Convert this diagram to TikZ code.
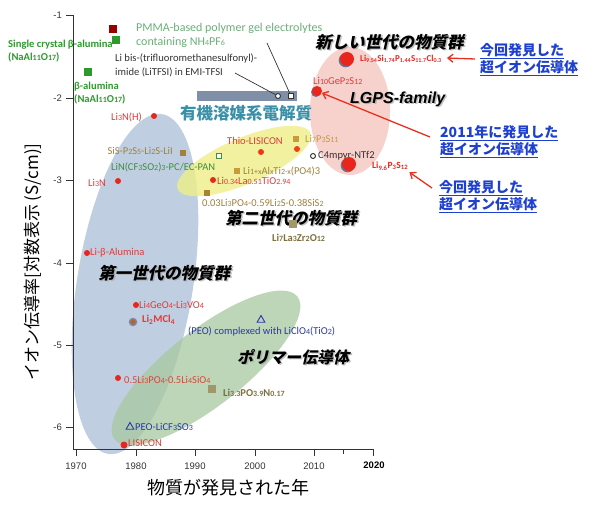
\documentclass[tikz,border=0pt]{standalone}
\usepackage{fontspec}
\setmainfont{Carlito}
\newfontfamily\jp{Noto Sans CJK JP}
\newfontfamily\jpit[FakeSlant=0.22]{Noto Sans CJK JP}
\newfontfamily\arl{Liberation Sans}
\usetikzlibrary{shapes.geometric,shadows,arrows.meta}
\newcommand\sd[1]{{\fontsize{8}{8}\selectfont #1}}
\definecolor{dotred}{HTML}{E8261E}
\definecolor{txtred}{HTML}{E03A3A}
\definecolor{brownA}{HTML}{A0803A}
\definecolor{goldA}{HTML}{C89A3A}
\definecolor{oliveA}{HTML}{7C7040}
\definecolor{oliveB}{HTML}{A09868}
\definecolor{grnA}{HTML}{2E9A2E}
\definecolor{grnB}{HTML}{3E8E3E}
\definecolor{pmmaC}{HTML}{6AAE78}
\definecolor{tealA}{HTML}{3A90A8}
\definecolor{bluA}{HTML}{2838A8}
\definecolor{annblue}{HTML}{1E40D0}
\definecolor{ellblue}{HTML}{B4C6DA}
\definecolor{ellgreen}{HTML}{A8C8A0}
\definecolor{ellyellow}{HTML}{EEEE88}
\definecolor{ellpink}{HTML}{F6CCC6}
\definecolor{rectgray}{HTML}{7F8FA8}
\definecolor{slate}{HTML}{5A6A90}
\definecolor{axisgray}{HTML}{333333}
\definecolor{redarr}{HTML}{E83020}
\tikzset{
 lbl/.style={anchor=west, inner sep=0pt, font=\fontsize{10.5}{12}\selectfont},
 lble/.style={anchor=east, inner sep=0pt, font=\fontsize{10.5}{12}\selectfont},
 rdot/.style={circle, fill=dotred, inner sep=0pt, minimum size=6pt},
 bigdot/.style={circle, fill=dotred, inner sep=0pt, minimum size=14pt,
   drop shadow={shadow xshift=-1.3pt, shadow yshift=-1.3pt, fill=slate, opacity=0.9}},
 sqm/.style={rectangle, inner sep=0pt, minimum size=6pt},
 osq/.style={rectangle, draw=#1, line width=0.9pt, fill=white, inner sep=0pt, minimum size=5.5pt},
 ocirc/.style={circle, draw=axisgray, line width=0.9pt, fill=white, inner sep=0pt, minimum size=5pt},
 tri/.style={regular polygon, regular polygon sides=3, draw=bluA, line width=0.9pt, inner sep=0pt, minimum size=9pt},
 title/.style={anchor=west, inner sep=0pt, font=\jpit\bfseries\fontsize{16.5}{18}\selectfont},
 tshadow/.style={anchor=west, inner sep=0pt, font=\jpit\bfseries\fontsize{16.5}{18}\selectfont, text=black!35, opacity=0.7},
 ann/.style={anchor=west, inner sep=0pt, align=left, text=annblue, font=\jp\bfseries\fontsize{14}{17}\selectfont},
 rarrow/.style={draw=redarr, line width=1.3pt, -{Straight Barb[length=5pt,width=8pt]}},
 tick/.style={draw=axisgray, line width=0.8pt},
 ticklbl/.style={inner sep=0pt, font=\arl\fontsize{9.5}{11}\selectfont, text=axisgray},
}
\begin{document}
\begin{tikzpicture}[x=1pt,y=-1pt]
\useasboundingbox (0,0) rectangle (600,516);
% regions
\begin{scope}[shift={(135,284)},rotate=-9]
 \fill[ellblue, opacity=0.85] (0,0) ellipse [x radius=58pt, y radius=172pt];
\end{scope}
\begin{scope}[shift={(206,368)},rotate=38]
 \fill[ellgreen, opacity=0.75] (0,0) ellipse [x radius=116pt, y radius=38pt];
\end{scope}
\begin{scope}[shift={(244,161)},rotate=23]
 \fill[ellyellow, opacity=0.8] (0,0) ellipse [x radius=72pt, y radius=23pt];
\end{scope}
\fill[ellpink, opacity=0.9] (350,111) ellipse [x radius=40pt, y radius=64pt];
\fill[rectgray] (197,91) rectangle (297,101);
% axes
\draw[tick] (73,15) -- (73,449) -- (373,449);
\foreach \v/\yy in {-1/15,-2/98,-3/180,-4/263,-5/345,-6/427}{
  \draw[tick] (66,\yy) -- (73,\yy);
  \node[ticklbl, anchor=east] (yt\v) at (62,\yy) {\v};
}
\foreach \yr/\xx in {1970/76,1980/136,1990/195,2000/255,2010/314}{
  \draw[tick] (\xx,449) -- (\xx,456);
  \node[ticklbl] (xt\yr) at (\xx,466) {\yr};
}
\draw[tick] (343,449) -- (343,454);
\draw[tick] (373,449) -- (373,456);
\node[ticklbl, font=\arl\bfseries\fontsize{9.5}{11}\selectfont, text=black] (xt2020) at (374,465) {2020};
\node[font=\jp\fontsize{17}{19}\selectfont, rotate=90, inner sep=0pt] (ylab) at (33,262) {イオン伝導率[対数表示 (S/cm)]};
\node[font=\jp\fontsize{18}{20}\selectfont, inner sep=0pt] (xlab) at (228,488) {物質が発見された年};
% top-left green
\node[sqm, fill=red!60!black, minimum size=8pt] (sqDR) at (113,29) {};
\node[sqm, fill=grnA, minimum size=8pt] (sqG1) at (116,40) {};
\node[sqm, fill=grnA, minimum size=8pt] (sqG2) at (88,72) {};
\node[lbl, align=left, text=grnA, font=\bfseries\fontsize{10.6}{13.5}\selectfont] (tSC) at (8,51) {Single crystal β-alumina\\(NaAl\sd{11}O\sd{17})};
\node[lbl, align=left, text=grnA, font=\bfseries\fontsize{10.6}{13}\selectfont] (tBA) at (74,93) {β-alumina\\(NaAl\sd{11}O\sd{17})};
% organic electrolytes
\node[lbl, align=left, text=pmmaC, font=\fontsize{12}{13.5}\selectfont] (tPMMA) at (136,35.5) {PMMA-based polymer gel electrolytes\\containing NH\sd{4}PF\sd{6}};
\node[lbl, align=left, text=axisgray, font=\fontsize{10.6}{14}\selectfont] (tTFSI) at (115,65) {Li bis-(trifluoromethanesulfonyl)-\\imide (LiTFSI) in EMI-TFSI};
\node[ocirc] (oc1) at (278,96) {};
\node[osq=axisgray] (osq1) at (291,96) {};
\coordinate (pmmaL) at (267,43);
\coordinate (tfsiL) at (235,73);
\draw[axisgray, line width=0.7pt] (pmmaL) -- (osq1);
\draw[axisgray, line width=0.7pt] (tfsiL) -- (oc1);
\node[anchor=west, inner sep=0pt, text=tealA, font=\jp\bfseries\fontsize{16.5}{18}\selectfont] (tOrg) at (180,113) {有機溶媒系電解質};
% second-gen region
\node[rdot] (dLi3NH) at (154,116) {};
\node[lble, text=txtred] (tLi3NH) at (142,117) {Li\sd{3}N(H)};
\node[sqm, fill=brownA] (sqSiS) at (183,153) {};
\node[lble, text=brownA] (tSiS) at (173,151) {SiS-P\sd{2}S\sd{5}-Li\sd{2}S-LiI};
\node[osq=grnB] (osqLiN) at (219,156) {};
\node[lbl, text=grnB] (tLiN) at (111,167) {LiN(CF\sd{3}SO\sd{2})\sd{3}-PC/EC-PAN};
\node[rdot, fill=dotred!80!orange] (dThio1) at (261,152) {};
\node[rdot, fill=dotred!70!orange] (dThio2) at (297,149) {};
\node[lbl, text=txtred] (tThio) at (227,141) {Thio-LISICON};
\node[sqm, fill=goldA] (sqLPS) at (296,139) {};
\node[lbl, text=goldA] (tLPS) at (305,139) {Li\sd{7}P\sd{3}S\sd{11}};
\node[ocirc] (ocC4) at (313,156) {};
\node[lbl, text=axisgray] (tC4) at (318,156) {C4mpyr-NTf2};
\node[sqm, fill=goldA] (sqLATP) at (237,171) {};
\node[lbl, text=brownA] (tLATP) at (243,171) {Li\sd{1+x}Al\sd{x}Ti\sd{2-x}(PO4)3};
\node[rdot] (dLLTO) at (213,180) {};
\node[lbl, text=txtred] (tLLTO) at (217,181) {Li\sd{0.34}La\sd{0.51}TiO\sd{2.94}};
\node[sqm, fill=goldA!85!black] (sqLSS) at (207,193) {};
\node[lbl, text=brownA] (tLSS) at (202,203) {0.03Li\sd{3}PO\sd{4}-0.59Li\sd{2}S-0.38SiS\sd{2}};
\node[tshadow] (s2gen) at (226.5,219.5) {第二世代の物質群};
\node[title] (t2gen) at (225,218) {第二世代の物質群};
\node[sqm, fill=oliveB, minimum size=8pt] (sqLLZO) at (293,224) {};
\node[lbl, text=oliveA, font=\bfseries\fontsize{10.5}{12}\selectfont] (tLLZO) at (272,238) {Li\sd{7}La\sd{3}Zr\sd{2}O\sd{12}};
% first gen
\node[rdot] (dLi3N) at (118,181) {};
\node[lbl, text=txtred] (tLi3N) at (88,183) {Li\sd{3}N};
\node[rdot] (dLiBA) at (87,253) {};
\node[lbl, text=txtred] (tLiBA) at (90,253) {Li-β-Alumina};
\node[tshadow] (s1gen) at (99.5,274.5) {第一世代の物質群};
\node[title] (t1gen) at (98,273) {第一世代の物質群};
\node[rdot] (dLGV) at (136,305) {};
\node[lbl, text=txtred] (tLGV) at (139,305) {Li\sd{4}GeO\sd{4}-Li\sd{3}VO\sd{4}};
\node[circle, draw=slate!80, line width=1.4pt, fill=brownA!80!red, inner sep=0pt, minimum size=7pt] (dLMC) at (133,322) {};
\node[lbl, text=txtred, font=\bfseries\fontsize{10.5}{12}\selectfont] (tLMC) at (142,320) {Li\textsubscript{2}MCl\textsubscript{4}};
% polymers
\node[tri] (triPEO) at (261,320) {};
\node[lbl, text=bluA] (tPEO) at (188,332) {(PEO) complexed with LiClO\sd{4}(TiO\sd{2})};
\node[tshadow, font=\jpit\bfseries\fontsize{16}{18}\selectfont] (spol) at (238.5,358.5) {ポリマー伝導体};
\node[title, font=\jpit\bfseries\fontsize{16}{18}\selectfont] (tpol) at (237,357) {ポリマー伝導体};
\node[rdot] (dLPSO) at (118,378) {};
\node[lbl, text=txtred!85!brown] (tLPSO) at (124,380) {0.5Li\sd{3}PO\sd{4}-0.5Li\sd{4}SiO\sd{4}};
\node[sqm, fill=oliveB, minimum size=8pt] (sqLiPON) at (212,389) {};
\node[lbl, text=oliveA, font=\bfseries\fontsize{10.5}{12}\selectfont] (tLiPON) at (223,393) {Li\sd{3.3}PO\sd{3.9}N\sd{0.17}};
\node[tri] (triPEO2) at (130,427) {};
\node[lbl, text=bluA] (tPEO2) at (135,427) {PEO-LiCF\sd{3}SO\sd{3}};
\node[rdot, minimum size=7pt] (dLIS) at (124,445) {};
\node[lbl, text=txtred] (tLIS) at (128,443) {LISICON};
% new generation
\node[tshadow] (snew) at (316.5,43.5) {新しい世代の物質群};
\node[title] (tnew) at (315,42) {新しい世代の物質群};
\node[bigdot] (dB1) at (347,59) {};
\node[lbl, text=dotred, font=\bfseries\fontsize{9}{11}\selectfont] (tB1) at (360,59) {Li\textsubscript{9.54}Si\textsubscript{1.74}P\textsubscript{1.44}S\textsubscript{11.7}Cl\textsubscript{0.3}};
\node[lbl, text=txtred] (tLGPS) at (313,81) {Li\sd{10}GeP\sd{2}S\sd{12}};
\node[circle, fill=dotred, inner sep=0pt, minimum size=10pt, drop shadow={shadow xshift=-1pt, shadow yshift=-1pt, fill=slate, opacity=0.9}] (dLGPS) at (317,91) {};
\node[anchor=west, inner sep=0pt, text=black!35, opacity=0.7, font=\arl\bfseries\itshape\fontsize{16}{18}\selectfont] (sfam) at (351.5,100.5) {LGPS-family};
\node[anchor=west, inner sep=0pt, font=\arl\bfseries\itshape\fontsize{16}{18}\selectfont] (tfam) at (350,99) {LGPS-family};
\node[bigdot] (dB2) at (349,164) {};
\node[lbl, text=dotred, font=\bfseries\fontsize{9.5}{11}\selectfont] (tB2) at (372,166) {Li\textsubscript{9.6}P\textsubscript{3}S\textsubscript{12}};
% annotations
\node[ann] (ann1) at (480,60) {\underline{今回発見した}\\\underline{超イオン伝導体}};
\node[ann] (ann2) at (440,142) {\underline{2011年に発見した}\\\underline{超イオン伝導体}};
\node[ann] (ann3) at (439,197) {\underline{今回発見した}\\\underline{超イオン伝導体}};
\draw[rarrow] ([xshift=-5pt,yshift=1pt]ann1.west) -- ([xshift=5pt,yshift=1pt]tB1.east);
\draw[rarrow] ([xshift=-10pt,yshift=5pt]ann2.west) -- (dLGPS);
\draw[rarrow] ([xshift=-7pt,yshift=9pt]ann3.west) -- ([xshift=1pt,yshift=-2pt]tB2.south east);
\end{tikzpicture}
\end{document}
